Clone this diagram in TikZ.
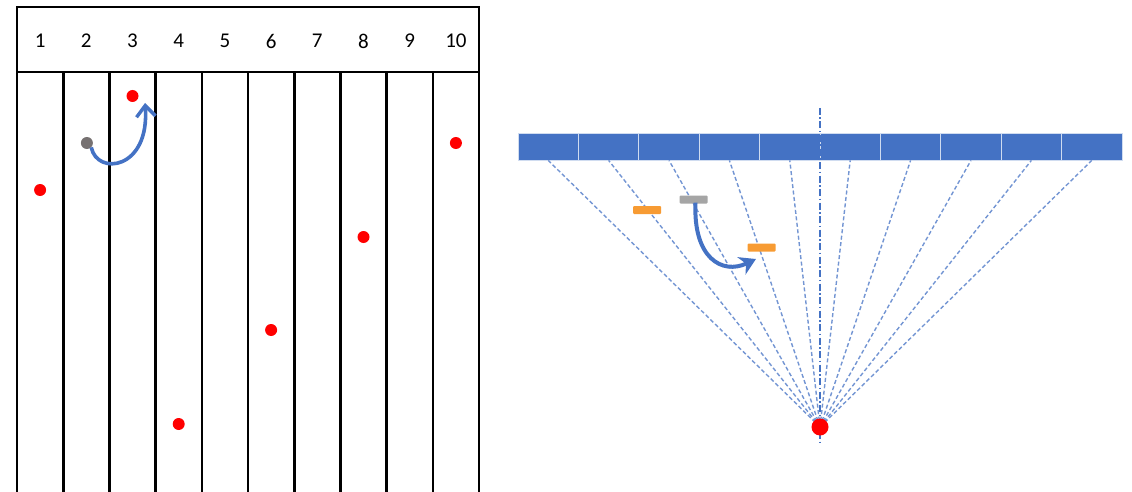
\documentclass[tikz,border=0pt]{standalone}
\usepackage{fontspec}
\setmainfont{Carlito}
\usetikzlibrary{arrows.meta}
\definecolor{accblue}{HTML}{4472C4}
\definecolor{accorange}{HTML}{F79B33}
\definecolor{accgray}{HTML}{A5A5A5}
\definecolor{dotgray}{HTML}{767171}
\tikzset{
  gridline/.style={line width=2.6pt, black},
  numlabel/.style={font=\fontsize{21}{21}\selectfont, inner sep=0pt},
  reddot/.style={circle, fill=red, minimum size=12pt, inner sep=0pt},
  graydot/.style={circle, fill=dotgray, minimum size=12pt, inner sep=0pt},
  segbox/.style={rectangle, fill=accblue, draw=white!75!accblue, line width=0.8pt, minimum width=60.4pt, minimum height=27pt, inner sep=0pt},
  ray/.style={accblue!75, line width=1.4pt, dash pattern=on 4pt off 2.5pt},
  axisline/.style={accblue, line width=1.1pt, dash pattern=on 7pt off 2.5pt on 1.5pt off 2.5pt},
  marker/.style={rectangle, rounded corners=1pt, minimum width=28pt, minimum height=8pt, inner sep=0pt},
  movearrow/.style={accblue, line width=3.6pt}
}
\begin{document}
\begin{tikzpicture}[x=1pt,y=-1pt]
\useasboundingbox (0,0) rectangle (1132,492);
% ---------- left grid ----------
\draw[gridline] (17,492) -- (17,7) -- (479,7) -- (479,492);
\draw[gridline] (17,72) -- (479,72);
\foreach \i in {1,...,9}{
  \draw[gridline] ({17+\i*46.2},72) -- ({17+\i*46.2},492);
}
\foreach \i in {1,...,10}{
  \node[numlabel] (n\i) at ({17+(\i-0.5)*46.2},41) {\i};
}
\node[reddot] (d1) at (40.1,190) {};
\node[reddot] (d3) at (132.5,96) {};
\node[reddot] (d4) at (178.7,424) {};
\node[reddot] (d6) at (271.1,330) {};
\node[reddot] (d8) at (363.5,237) {};
\node[reddot] (d10) at (455.9,143) {};
\node[graydot] (g2) at (86.9,143) {};
\coordinate (lefttip) at (145,103);
\draw[movearrow, -{Straight Barb[length=11pt,width=19pt,line width=3.4pt]}]
  (g2.south east) .. controls (97,176) and (150,170) .. (lefttip);
% ---------- right detector ----------
\foreach \k in {1,...,10}{
  \node[segbox] (s\k) at ({548.2+(\k-1)*60.4},146.5) {};
}
\coordinate (srcc) at (820,427);
\foreach \k in {1,...,10}{
  \draw[ray] (srcc) -- (s\k.south);
}
\coordinate (axtop) at (820,108);
\coordinate (axbot) at (820,442);
\draw[axisline] (axtop) -- (axbot);
\node[reddot, minimum size=17pt] (src) at (srcc) {};
\node[marker, fill=accorange] (o1) at (647,210) {};
\node[marker, fill=accgray] (gm) at (693.5,199.5) {};
\node[marker, fill=accorange] (o2) at (761.5,247.5) {};
\coordinate (righttip) at (756,259);
\draw[movearrow, line width=4pt, -{Stealth[length=16pt,width=19pt,inset=5pt]}]
  ([xshift=2pt,yshift=1pt]gm.south) .. controls (693,258) and (722,275) .. (righttip);
\end{tikzpicture}
\end{document}
